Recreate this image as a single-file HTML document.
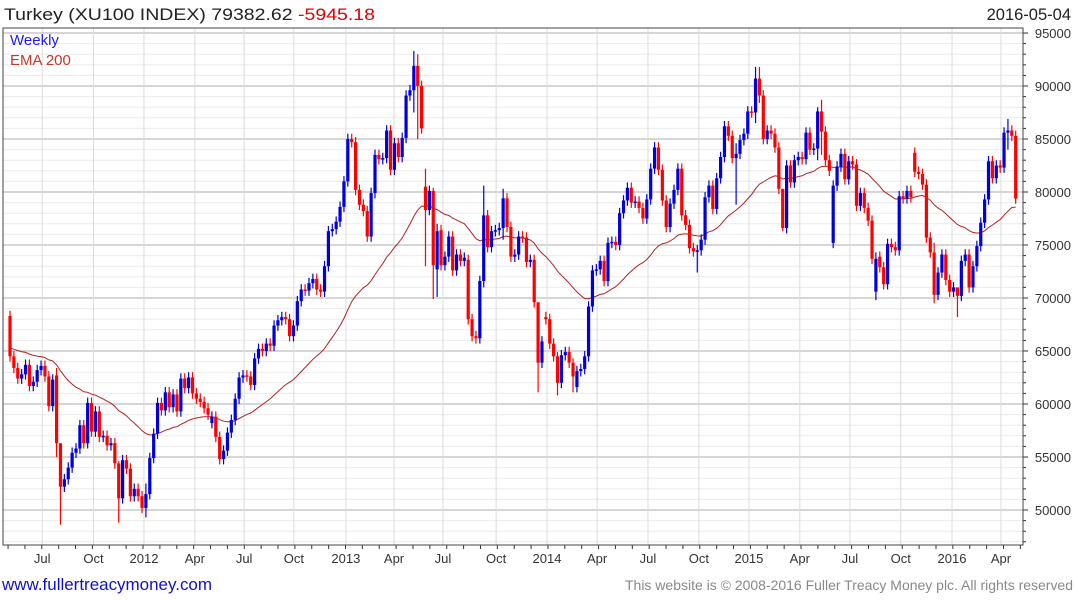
<!DOCTYPE html>
<html><head><meta charset="utf-8"><style>
html,body{margin:0;padding:0;background:#fff;width:1075px;height:600px;overflow:hidden;font-family:"Liberation Sans",sans-serif}
svg text{font-family:"Liberation Sans",sans-serif}
</style></head><body>
<svg id="chart" width="1075" height="600" xmlns="http://www.w3.org/2000/svg">
<text x="4" y="20" font-size="17" fill="#222" textLength="371" lengthAdjust="spacingAndGlyphs">Turkey (XU100 INDEX) 79382.62 <tspan fill="#e00000">-5945.18</tspan></text>
<text x="1071" y="20" font-size="16.5" fill="#222" text-anchor="end">2016-05-04</text>
<text x="2" y="590" font-size="16.5" fill="#1010cc" textLength="210" lengthAdjust="spacingAndGlyphs">www.fullertreacymoney.com</text>
<text x="625" y="590" font-size="14" fill="#888" textLength="448" lengthAdjust="spacingAndGlyphs">This website is © 2008-2016 Fuller Treacy Money plc. All rights reserved</text>
</svg>
<script>
const closes=[64.5,63.4,62.4,62.8,63.7,61.7,62.1,63.2,63.6,62.6,59.8,62.3,56.3,52.2,52.9,54.0,55.4,55.8,58.0,56.3,
60.1,57.4,59.3,56.9,57.0,56.1,56.3,54.4,51.1,54.7,53.9,51.3,52.0,51.3,50.2,51.5,54.9,57.2,60.1,59.4,
61.1,59.7,60.9,59.3,62.4,61.5,62.5,61.0,60.5,60.2,59.6,59.0,58.8,56.9,54.8,55.6,57.3,58.5,60.5,62.5,
62.7,62.6,61.8,64.3,65.2,65.0,65.7,65.5,67.4,67.9,68.2,68.0,66.4,67.4,69.7,70.8,70.7,71.4,71.8,70.8,
70.6,73.0,76.3,76.5,77.2,78.6,81.0,85.0,84.7,80.2,78.8,78.2,75.8,79.9,83.5,83.1,83.2,85.8,82.1,84.6,
83.3,85.1,89.1,89.6,91.9,90.0,86.0,78.3,80.1,73.1,76.3,73.1,73.9,75.8,72.6,74.1,73.5,73.8,68.0,66.4,
66.2,71.6,77.8,74.8,76.3,76.4,76.6,79.4,76.7,73.9,74.1,75.8,75.7,73.4,73.6,69.6,63.9,65.9,68.0,65.7,
64.5,62.0,64.6,64.9,63.9,62.6,63.1,63.3,64.5,69.2,72.6,72.7,73.5,71.6,75.2,75.3,75.0,78.0,79.2,80.4,
79.0,79.1,78.5,77.5,79.3,82.2,84.2,82.1,79.2,76.7,78.9,80.2,82.2,77.8,76.9,74.7,74.4,74.5,75.5,79.5,
80.6,78.4,81.3,83.3,86.2,85.3,83.2,83.6,84.9,85.5,87.6,87.5,90.7,89.1,85.0,85.8,85.5,84.2,80.3,76.6,
82.5,80.9,83.0,83.3,83.1,85.6,84.0,84.1,87.6,85.7,83.0,82.0,80.6,82.4,83.6,81.2,82.9,82.6,78.7,79.9,
78.5,77.3,73.7,73.7,72.9,71.3,75.1,74.8,74.5,79.6,79.4,80.1,79.5,81.9,81.7,80.7,75.7,74.3,70.3,72.4,
74.1,71.7,70.6,71.0,70.2,73.5,74.1,71.0,73.0,74.9,77.1,79.3,82.9,81.3,82.5,82.3,85.6,85.8,85.3,79.38];
const openIdx=[1,13,53,108,111,112,119,139,147,213,224,225,234];
const openVal=[68.3,62.7,58.2,80.5,72.7,76.4,73.6,68.2,61.6,75.2,70.6,73.9,83.7];
const wickIdx=[1,13,14,29,36,105,106,108,110,111,123,128,137,142,146,178,188,193,194,200,209,210,224,239,245,258];
const wickHigh=[68.8,63.4,55.3,54.6,52.5,93.3,93.0,82.2,80.4,77.0,80.6,80.3,68.5,64.9,64.3,75.0,84.6,91.8,91.8,80.3,88.0,88.7,74.3,75.2,71.0,86.9];
const wickLow=[64.0,55.0,48.6,48.8,49.3,87.5,85.0,73.0,69.9,70.1,71.0,75.5,61.1,60.8,61.1,72.4,78.8,86.5,88.4,76.3,83.0,83.5,69.8,69.5,68.2,84.0];
const emaSeed=65.3, emaPeriod=40;
const yTicks=[50000,55000,60000,65000,70000,75000,80000,85000,90000,95000];
const xTickLabels=["Jul","Oct","2012","Apr","Jul","Oct","2013","Apr","Jul","Oct","2014","Apr","Jul","Oct","2015","Apr","Jul","Oct","2016","Apr"];
const xTickWeeks=[8.3,21.5,34.5,47.6,60.3,73.1,86.5,98.9,111.5,125.2,138.3,151.2,164.3,177.4,190.3,203.4,216.3,229.4,242.6,255.2];

const NS="http://www.w3.org/2000/svg";
const svg=document.getElementById('chart');
const L=3,R=1023,T=28,B=545;
const x=i=>10+i*3.883;
const y=v=>510-(v-50)*10.6;
function mk(tag,attrs,parent){const e=document.createElementNS(NS,tag);for(const k in attrs)e.setAttribute(k,attrs[k]);(parent||svg).appendChild(e);return e;}
const grid=mk('g',{});


for(let v=47;v<=96;v++){const yy=y(v);if(yy<T||yy>B)continue;
 const ln=mk('line',{x1:L,x2:R,y1:yy,y2:yy,stroke:v%5===0?'#bdbdbd':'#ececec','stroke-width':v%5===0?1.2:1},grid);
 
 }
xTickWeeks.forEach((w,k)=>{const xx=x(w);
 const ln=mk('line',{x1:xx,x2:xx,y1:T,y2:B,stroke:'#dcdcdc','stroke-width':1},grid);
 
 
 const t=mk('text',{x:xx,y:563,'font-size':13,fill:'#333','text-anchor':'middle'});t.textContent=xTickLabels[k];
 
 });
for(let m=0;m<62;m++){const xx=x(-0.5+m*4.345);if(xx>R)break;
 const tk=mk('line',{x1:xx,x2:xx,y1:B,y2:B+4,stroke:'#333'});
 
 }
yTicks.forEach(v=>{const yy=y(v/1000);
 const t=mk('text',{x:1071,y:yy+5,'font-size':13,fill:'#333','text-anchor':'end'});t.textContent=v;
 
 });
for(let v=47;v<=96;v++){const yy=y(v);if(yy<T||yy>B)continue;
 const tk=mk('line',{x1:R,x2:R+(v%5===0?5:3),y1:yy,y2:yy,stroke:'#333'});
 
 }
const frame=mk('rect',{x:L,y:T,width:R-L,height:B-T,fill:'none',stroke:'#444','stroke-width':1});


let ema=emaSeed;const a=2/(emaPeriod+1);let pts=[];
closes.forEach((c,i)=>{ema=ema+a*(c-ema);pts.push(x(i).toFixed(1)+','+y(ema).toFixed(1));});
const emaLine=mk('polyline',{points:pts.join(' '),fill:'none',stroke:'#b22222','stroke-width':1});


const cg=mk('g',{});


closes.forEach((c,i)=>{
 const n=i+1;let o=i===0?c:closes[i-1];
 const oi=openIdx.indexOf(n);if(oi>=0)o=openVal[oi];
 let hi=Math.max(o,c)+0.5,lo=Math.min(o,c)-0.5;
 const wi=wickIdx.indexOf(n);if(wi>=0){hi=wickHigh[wi];lo=wickLow[wi];}
 const col=c<o?'#ff0000':'#0000dd';const xx=x(i);
 const w=mk('line',{x1:xx,x2:xx,y1:y(hi),y2:y(lo),stroke:col,'stroke-width':1.2},cg);
 
 
 const top=y(Math.max(o,c)),h=Math.max(1.5,y(Math.min(o,c))-top);
 const r=mk('rect',{x:xx-1.6,y:top,width:3.2,height:h,fill:col},cg);
 
 
});
const l1=mk('text',{x:10,y:45,'font-size':15,fill:'#1a1aff'});l1.textContent='Weekly';


const l2=mk('text',{x:10,y:65,'font-size':15,fill:'#c0392b'});l2.textContent='EMA 200';


</script>
</body></html>
